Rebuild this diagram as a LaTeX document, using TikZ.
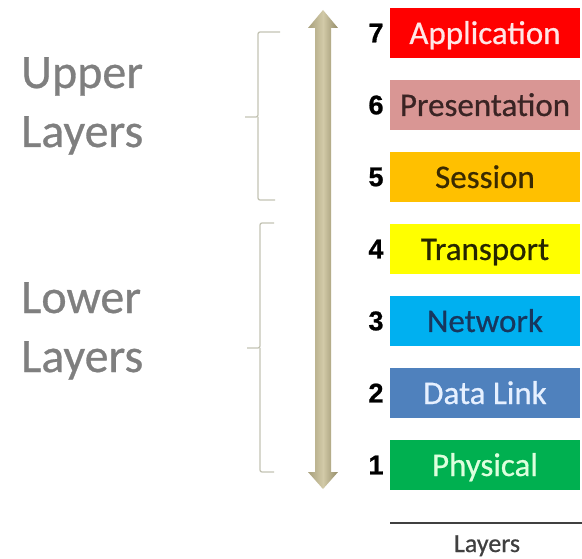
\documentclass[tikz,border=0pt]{standalone}
\usepackage{fontspec}
\setmainfont{Carlito}
\newfontfamily\boxfont[FakeBold=0.6]{Carlito}
\newfontfamily\numfont[FakeBold=0.8]{Liberation Sans}
\definecolor{appred}{HTML}{FF0000}
\definecolor{presrose}{HTML}{D99694}
\definecolor{sessorange}{HTML}{FFC000}
\definecolor{transyellow}{HTML}{FFFF00}
\definecolor{netblue}{HTML}{00B0F0}
\definecolor{dlblue}{HTML}{4F81BD}
\definecolor{physgreen}{HTML}{00B050}
\definecolor{graytext}{HTML}{7F7F7F}
\definecolor{darktext}{HTML}{404040}
\definecolor{bracecol}{HTML}{C4C4B4}
\definecolor{arrowdark}{HTML}{A8A07C}
\definecolor{arrowlight}{HTML}{D2CAA8}
\definecolor{arrowdarker}{HTML}{948C68}
\definecolor{apptext}{HTML}{FFE6E6}
\definecolor{prestext}{HTML}{3A2424}
\definecolor{sesstext}{HTML}{3A2A00}
\definecolor{transtext}{HTML}{262600}
\definecolor{nettext}{HTML}{17375E}
\definecolor{dltext}{HTML}{E6F0FF}
\definecolor{phystext}{HTML}{DDFFDD}
\begin{document}
\begin{tikzpicture}[x=1pt,y=-1pt,
  layerbox/.style={minimum width=190pt, minimum height=50pt, inner sep=0pt,
    anchor=center, text height=26pt, text depth=4pt,
    font=\boxfont\fontsize{33}{40}\selectfont},
  layernum/.style={anchor=center, inner sep=0pt,
    font=\numfont\bfseries\fontsize{27}{30}\selectfont},
  sidetext/.style={anchor=base west, inner sep=0pt, text=graytext,
    font=\boxfont\fontsize{48}{58}\selectfont},
  bracket/.style={draw=bracecol, line width=1.3pt, rounded corners=2pt}]
\useasboundingbox (0,0) rectangle (582,559);
\fill[white] (0,0) rectangle (582,559);

% layer boxes
\node[layerbox, fill=appred, text=apptext] (app) at (485,33) {Application};
\node[layerbox, fill=presrose, text=prestext] (pres) at (485,105) {Presentation};
\node[layerbox, fill=sessorange, text=sesstext] (sess) at (485,177) {Session};
\node[layerbox, fill=transyellow, text=transtext] (trans) at (485,249) {Transport};
\node[layerbox, fill=netblue, text=nettext] (net) at (485,321) {Network};
\node[layerbox, fill=dlblue, text=dltext] (dl) at (485,393) {Data Link};
\node[layerbox, fill=physgreen, text=phystext] (phys) at (485,465) {Physical};

% numbers
\node[layernum] (n7) at (376,33) {7};
\node[layernum] (n6) at (376,105) {6};
\node[layernum] (n5) at (376,177) {5};
\node[layernum] (n4) at (376,249) {4};
\node[layernum] (n3) at (376,321) {3};
\node[layernum] (n2) at (376,393) {2};
\node[layernum] (n1) at (376,465) {1};

% double arrow
\coordinate (arrtop) at (323,10);
\coordinate (arrbot) at (323,489);
\shade[left color=arrowdark, right color=arrowdarker, middle color=arrowlight]
  (arrtop) -- (338,28) -- (331,28) -- (331,472) -- (338,472) -- (arrbot)
  -- (308,472) -- (315,472) -- (315,28) -- (308,28) -- cycle;

% brackets
\draw[bracket] (280,32) -- (258,32) -- (258,117) -- (245,117);
\draw[bracket] (258,117) -- (258,200) -- (275,200);
\draw[bracket] (274,223) -- (260,223) -- (260,348) -- (247,348);
\draw[bracket] (260,348) -- (260,472) -- (274,472);

% side labels
\node[sidetext] (up1) at (21,88) {Upper};
\node[sidetext] (up2) at (21,147) {Layers};
\node[sidetext] (lo1) at (21,313) {Lower};
\node[sidetext] (lo2) at (21,372) {Layers};

% bottom caption
\coordinate (capl) at (390,523);
\coordinate (capr) at (582,523);
\draw[line width=1.5pt, draw=darktext] (capl) -- (capr);
\node[anchor=base, inner sep=0pt, text=darktext, font=\boxfont\fontsize{26}{30}\selectfont] (cap) at (487,552) {Layers};
\end{tikzpicture}
\end{document}
